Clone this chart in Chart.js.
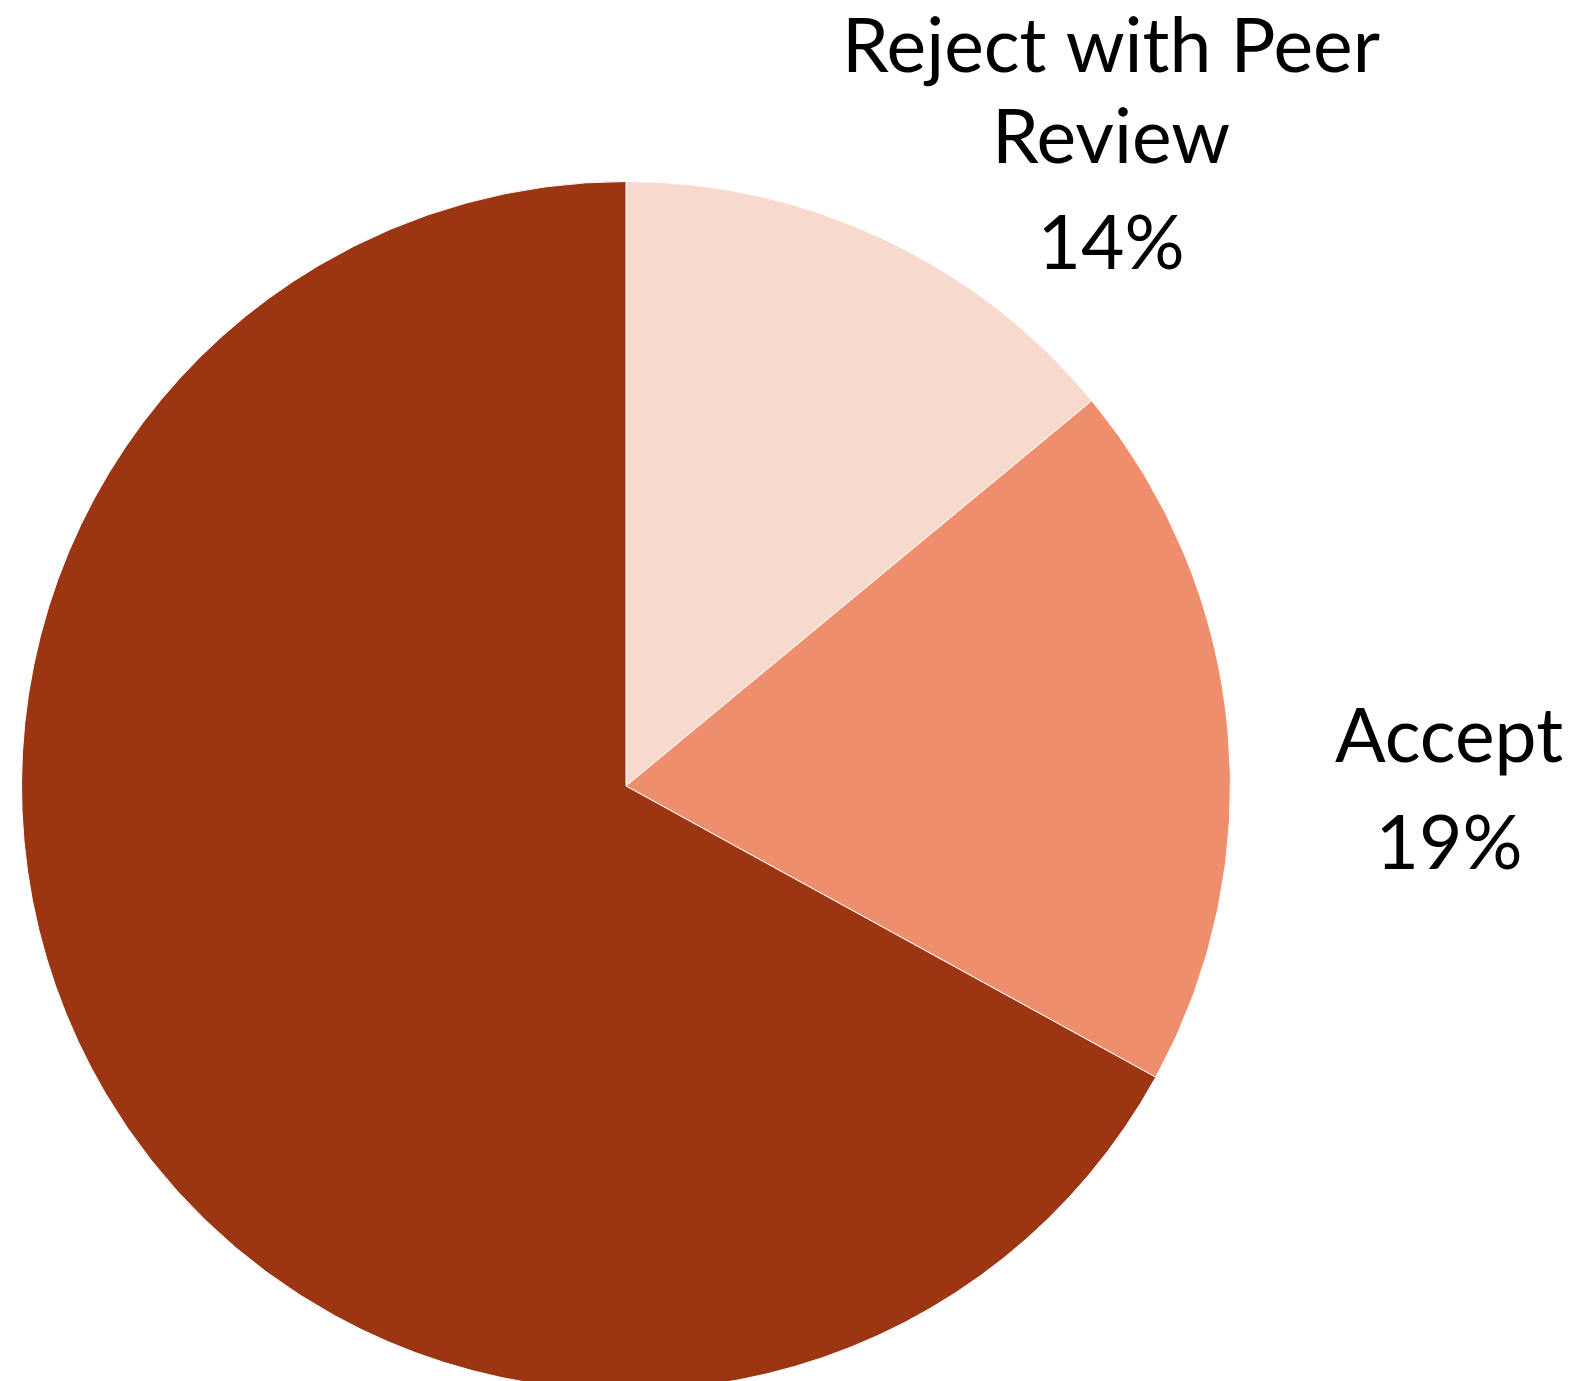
<!DOCTYPE html>
<html>
<head>
<meta charset="utf-8">
<script src="https://cdn.jsdelivr.net/npm/chart.js@4/dist/chart.umd.min.js"></script>
<style>
  html, body { margin: 0; padding: 0; background: #ffffff; overflow: hidden; }
  #wrap { width: 1580px; height: 1381px; position: relative; overflow: hidden; }
</style>
</head>
<body>
<div id="wrap"><canvas id="c" width="1580" height="1396"></canvas></div>
<script>
const categories = ["Reject with Peer Review", "Accept", "Reject without Peer Review"];
const values = [14, 19, 67];
const sliceColors = ["#F8D9CD", "#EE8E6C", "#9C3512"];
const showLabel = [true, true, false];
const labelLines = [["Reject with Peer", "Review"], ["Accept"], []];

const labelPlugin = {
  id: 'sliceLabels',
  afterDatasetsDraw(chart, args, opts) {
    const ctx = chart.ctx;
    const meta = chart.getDatasetMeta(0);
    ctx.save();
    ctx.fillStyle = '#000000';
    ctx.font = '400 75px Lato, "Open Sans", sans-serif';
    ctx.textAlign = 'center';
    ctx.textBaseline = 'alphabetic';
    meta.data.forEach((arc, i) => {
      if (!showLabel[i]) return;
      const p = opts.positions[i];
      const cx = arc.x + p.dx, top = arc.y + p.dy;
      const lines = labelLines[i].concat([values[i] + '%']);
      lines.forEach((t, k) => {
        let y = top;
        for (let j = 0; j < k; j++) y += (j === lines.length - 2) ? p.lastGap : p.lineGap;
        ctx.fillText(t, cx, y);
      });
    });
    ctx.restore();
  }
};

new Chart(document.getElementById('c'), {
  type: 'pie',
  data: {
    labels: categories,
    datasets: [{
      data: values,
      backgroundColor: sliceColors,
      borderColor: '#ffffff',
      borderWidth: 1
    }]
  },
  options: {
    responsive: false,
    animation: false,
    layout: { padding: { left: 21, right: 349, top: 181, bottom: 5 } },
    plugins: {
      legend: { display: false },
      tooltip: { enabled: false },
      sliceLabels: {
        positions: [
          { dx: 485, dy: -714, lineGap: 91, lastGap: 106 },
          { dx: 823, dy: -24, lineGap: 107, lastGap: 107 },
          { dx: 0, dy: 0, lineGap: 0, lastGap: 0 }
        ]
      }
    }
  },
  plugins: [labelPlugin]
});
</script>
</body>
</html>
